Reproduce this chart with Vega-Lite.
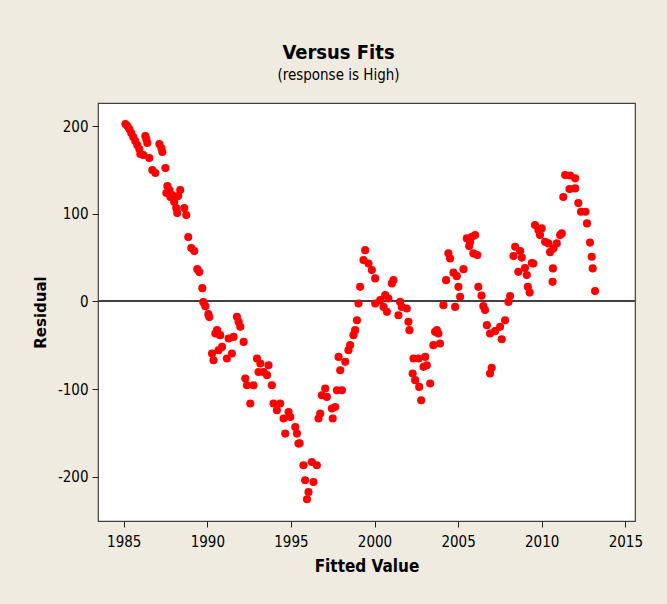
{
  "$schema": "https://vega.github.io/schema/vega-lite/v6.json",
  "width": 537,
  "height": 418,
  "autosize": {"type": "none"},
  "padding": {"left": 98, "top": 103, "right": 32, "bottom": 83},
  "background": "#EFEBE0",
  "title": {
    "text": "Versus Fits",
    "subtitle": "(response is High)",
    "anchor": "middle",
    "dx": -28,
    "font": "Liberation Sans Narrow, DejaVu Sans Condensed, sans-serif",
    "fontSize": 20,
    "fontWeight": "bold",
    "color": "black",
    "subtitleFont": "Liberation Sans Narrow, DejaVu Sans Condensed, sans-serif",
    "subtitleFontSize": 15,
    "subtitleColor": "black",
    "subtitlePadding": 5,
    "offset": 20
  },
  "config": {
    "view": {"fill": "white", "stroke": "#404040", "strokeWidth": 1.2},
    "axis": {
      "grid": false,
      "domain": false,
      "tickColor": "#202020",
      "tickSize": 6,
      "labelColor": "black",
      "labelFont": "Liberation Sans Narrow, DejaVu Sans Condensed, sans-serif",
      "labelFontSize": 15,
      "titleColor": "black"
    }
  },
  "data": {
    "values": [
      {"fit": 1985.10, "resid": 202.6}, {"fit": 1985.22, "resid": 200.3}, {"fit": 1985.33, "resid": 196.9},
      {"fit": 1985.45, "resid": 192.3}, {"fit": 1985.57, "resid": 187.8}, {"fit": 1985.69, "resid": 183.2},
      {"fit": 1985.81, "resid": 178.6}, {"fit": 1985.93, "resid": 174.1}, {"fit": 1985.99, "resid": 168.3},
      {"fit": 1986.17, "resid": 167.2}, {"fit": 1986.29, "resid": 188.9}, {"fit": 1986.35, "resid": 185.5},
      {"fit": 1986.41, "resid": 180.9}, {"fit": 1986.53, "resid": 163.8}, {"fit": 1986.71, "resid": 150.1},
      {"fit": 1986.89, "resid": 146.6}, {"fit": 1987.13, "resid": 179.8}, {"fit": 1987.25, "resid": 175.2},
      {"fit": 1987.31, "resid": 170.6}, {"fit": 1987.49, "resid": 152.3}, {"fit": 1987.61, "resid": 131.8},
      {"fit": 1987.55, "resid": 123.8}, {"fit": 1987.73, "resid": 127.2}, {"fit": 1987.79, "resid": 119.2},
      {"fit": 1987.90, "resid": 121.5}, {"fit": 1988.02, "resid": 113.5}, {"fit": 1988.14, "resid": 106.6},
      {"fit": 1988.20, "resid": 100.9}, {"fit": 1988.26, "resid": 120.3}, {"fit": 1988.38, "resid": 127.2},
      {"fit": 1988.62, "resid": 106.6}, {"fit": 1988.74, "resid": 98.6}, {"fit": 1988.86, "resid": 73.5},
      {"fit": 1989.04, "resid": 60.9}, {"fit": 1989.22, "resid": 57.5}, {"fit": 1989.40, "resid": 36.9},
      {"fit": 1989.52, "resid": 33.5}, {"fit": 1989.70, "resid": 15.2}, {"fit": 1989.76, "resid": -0.8},
      {"fit": 1989.88, "resid": -5.4}, {"fit": 1990.06, "resid": -14.5}, {"fit": 1990.12, "resid": -17.9},
      {"fit": 1990.28, "resid": -59.4}, {"fit": 1990.37, "resid": -67.1}, {"fit": 1990.48, "resid": -36.6},
      {"fit": 1990.58, "resid": -32.8}, {"fit": 1990.67, "resid": -55.7}, {"fit": 1990.77, "resid": -38.5},
      {"fit": 1990.88, "resid": -51.9}, {"fit": 1991.17, "resid": -65.1}, {"fit": 1991.27, "resid": -42.3},
      {"fit": 1991.47, "resid": -59.4}, {"fit": 1991.57, "resid": -40.5}, {"fit": 1991.77, "resid": -17.6},
      {"fit": 1991.87, "resid": -23.3}, {"fit": 1991.97, "resid": -29.0}, {"fit": 1992.17, "resid": -46.2},
      {"fit": 1992.27, "resid": -88.0}, {"fit": 1992.37, "resid": -95.7}, {"fit": 1992.57, "resid": -116.6},
      {"fit": 1992.76, "resid": -95.7}, {"fit": 1992.97, "resid": -65.1}, {"fit": 1993.06, "resid": -80.5},
      {"fit": 1993.17, "resid": -70.9}, {"fit": 1993.36, "resid": -80.5}, {"fit": 1993.57, "resid": -84.2},
      {"fit": 1993.66, "resid": -72.8}, {"fit": 1993.86, "resid": -95.7}, {"fit": 1993.96, "resid": -116.6},
      {"fit": 1994.16, "resid": -124.2}, {"fit": 1994.36, "resid": -116.6}, {"fit": 1994.56, "resid": -133.7},
      {"fit": 1994.66, "resid": -150.9}, {"fit": 1994.86, "resid": -126.2}, {"fit": 1994.96, "resid": -131.9},
      {"fit": 1995.26, "resid": -143.3}, {"fit": 1995.36, "resid": -150.9}, {"fit": 1995.45, "resid": -162.3},
      {"fit": 1995.52, "resid": -162.0}, {"fit": 1995.75, "resid": -187.1}, {"fit": 1995.85, "resid": -204.2},
      {"fit": 1995.96, "resid": -225.9}, {"fit": 1996.05, "resid": -217.6}, {"fit": 1996.25, "resid": -183.3},
      {"fit": 1996.35, "resid": -206.2}, {"fit": 1996.55, "resid": -187.1}, {"fit": 1996.65, "resid": -133.7},
      {"fit": 1996.75, "resid": -128.0}, {"fit": 1996.85, "resid": -107.1}, {"fit": 1997.05, "resid": -99.4},
      {"fit": 1997.15, "resid": -109.0}, {"fit": 1997.45, "resid": -122.3}, {"fit": 1997.50, "resid": -133.7},
      {"fit": 1997.65, "resid": -120.5}, {"fit": 1997.75, "resid": -101.4}, {"fit": 1998.05, "resid": -101.4},
      {"fit": 1997.85, "resid": -63.3}, {"fit": 1997.95, "resid": -78.5}, {"fit": 1998.25, "resid": -69.0},
      {"fit": 1998.44, "resid": -55.7}, {"fit": 1998.54, "resid": -49.9}, {"fit": 1998.74, "resid": -38.5},
      {"fit": 1998.84, "resid": -32.8}, {"fit": 1998.95, "resid": -21.4}, {"fit": 1999.04, "resid": -2.3},
      {"fit": 1999.14, "resid": 16.7}, {"fit": 1999.34, "resid": 47.2}, {"fit": 1999.44, "resid": 58.6},
      {"fit": 1999.64, "resid": 43.4}, {"fit": 1999.84, "resid": 35.8}, {"fit": 2000.04, "resid": 26.3},
      {"fit": 2000.04, "resid": -2.3}, {"fit": 2000.34, "resid": 1.5}, {"fit": 2000.54, "resid": -6.2},
      {"fit": 2000.64, "resid": 7.2}, {"fit": 2000.74, "resid": -11.9}, {"fit": 2000.83, "resid": 3.4},
      {"fit": 2001.04, "resid": 20.6}, {"fit": 2001.13, "resid": 24.3}, {"fit": 2001.43, "resid": -15.7},
      {"fit": 2001.53, "resid": -0.5}, {"fit": 2001.63, "resid": -6.2}, {"fit": 2001.93, "resid": -8.0},
      {"fit": 2002.03, "resid": -23.3}, {"fit": 2002.09, "resid": -32.8}, {"fit": 2002.33, "resid": -65.1},
      {"fit": 2002.28, "resid": -82.3}, {"fit": 2002.43, "resid": -89.9}, {"fit": 2002.63, "resid": -65.1},
      {"fit": 2002.67, "resid": -97.6}, {"fit": 2002.79, "resid": -112.8}, {"fit": 2002.93, "resid": -74.7},
      {"fit": 2003.03, "resid": -63.3}, {"fit": 2003.13, "resid": -72.8}, {"fit": 2003.33, "resid": -93.7},
      {"fit": 2003.52, "resid": -49.9}, {"fit": 2003.62, "resid": -34.7}, {"fit": 2003.73, "resid": -32.8},
      {"fit": 2003.82, "resid": -36.6}, {"fit": 2003.92, "resid": -48.0}, {"fit": 2004.12, "resid": -4.2},
      {"fit": 2004.28, "resid": 24.3}, {"fit": 2004.42, "resid": 54.9}, {"fit": 2004.52, "resid": 49.1},
      {"fit": 2004.72, "resid": 32.9}, {"fit": 2004.92, "resid": 28.9}, {"fit": 2005.02, "resid": 16.7},
      {"fit": 2005.12, "resid": 5.3}, {"fit": 2004.82, "resid": -6.2}, {"fit": 2005.32, "resid": 36.9},
      {"fit": 2005.52, "resid": 72.0}, {"fit": 2005.72, "resid": 67.8}, {"fit": 2005.82, "resid": 73.8},
      {"fit": 2006.02, "resid": 75.8}, {"fit": 2005.66, "resid": 63.2}, {"fit": 2005.91, "resid": 54.9},
      {"fit": 2006.15, "resid": 52.9}, {"fit": 2006.21, "resid": 16.7}, {"fit": 2006.40, "resid": 6.6},
      {"fit": 2006.51, "resid": -5.4}, {"fit": 2006.61, "resid": -9.9}, {"fit": 2006.72, "resid": -27.1},
      {"fit": 2006.91, "resid": -36.6}, {"fit": 2007.21, "resid": -33.9}, {"fit": 2007.51, "resid": -29.0},
      {"fit": 2007.81, "resid": -21.4}, {"fit": 2007.61, "resid": -43.1}, {"fit": 2007.01, "resid": -75.7},
      {"fit": 2006.91, "resid": -82.3}, {"fit": 2008.01, "resid": -0.5}, {"fit": 2008.11, "resid": 6.1},
      {"fit": 2008.31, "resid": 51.8}, {"fit": 2008.41, "resid": 62.4}, {"fit": 2008.71, "resid": 57.5},
      {"fit": 2008.81, "resid": 50.1}, {"fit": 2008.60, "resid": 33.8}, {"fit": 2009.00, "resid": 38.1},
      {"fit": 2009.11, "resid": 30.1}, {"fit": 2009.17, "resid": 16.7}, {"fit": 2009.28, "resid": 10.1},
      {"fit": 2009.41, "resid": 43.8}, {"fit": 2009.50, "resid": 43.4}, {"fit": 2009.60, "resid": 87.2},
      {"fit": 2009.80, "resid": 81.5}, {"fit": 2010.00, "resid": 83.4}, {"fit": 2009.90, "resid": 75.8},
      {"fit": 2010.20, "resid": 68.1}, {"fit": 2010.40, "resid": 66.3}, {"fit": 2010.50, "resid": 56.3},
      {"fit": 2010.70, "resid": 60.6}, {"fit": 2010.90, "resid": 66.3}, {"fit": 2011.10, "resid": 75.8},
      {"fit": 2011.20, "resid": 77.7}, {"fit": 2010.67, "resid": 37.7}, {"fit": 2010.65, "resid": 22.4},
      {"fit": 2011.29, "resid": 119.2}, {"fit": 2011.40, "resid": 144.3}, {"fit": 2011.70, "resid": 143.8},
      {"fit": 2012.00, "resid": 140.6}, {"fit": 2011.66, "resid": 128.3}, {"fit": 2012.00, "resid": 129.1},
      {"fit": 2012.19, "resid": 112.3}, {"fit": 2012.35, "resid": 102.4}, {"fit": 2012.62, "resid": 102.4},
      {"fit": 2012.71, "resid": 89.1}, {"fit": 2012.89, "resid": 67.2}, {"fit": 2012.99, "resid": 51.0},
      {"fit": 2013.05, "resid": 37.7}, {"fit": 2013.19, "resid": 11.8}
    ]
  },
  "layer": [
    {
      "mark": {"type": "rule", "color": "#404040", "strokeWidth": 1.2},
      "encoding": {"y": {"datum": 0, "type": "quantitative"}}
    },
    {
      "mark": {"type": "circle", "color": "#FF0000", "size": 66, "opacity": 1},
      "encoding": {
        "x": {
          "field": "fit",
          "type": "quantitative",
          "scale": {"domain": [1983.46, 2015.58], "nice": false, "zero": false},
          "axis": {
            "values": [1985, 1990, 1995, 2000, 2005, 2010, 2015],
            "format": "d",
            "title": "Fitted Value",
            "titleFont": "Liberation Sans Narrow, DejaVu Sans Condensed, sans-serif",
            "titleFontSize": 17,
            "titleFontWeight": "bold",
            "labelPadding": 7,
            "titlePadding": 9
          }
        },
        "y": {
          "field": "resid",
          "type": "quantitative",
          "scale": {"domain": [-250.7, 226.6], "nice": false, "zero": false},
          "axis": {
            "values": [-200, -100, 0, 100, 200],
            "labelExpr": "'' + datum.value",
            "title": "Residual",
            "titleFont": "DejaVu Sans",
            "titleFontSize": 15,
            "titleFontWeight": "bold",
            "labelPadding": 4,
            "titlePadding": 9
          }
        }
      }
    }
  ]
}
